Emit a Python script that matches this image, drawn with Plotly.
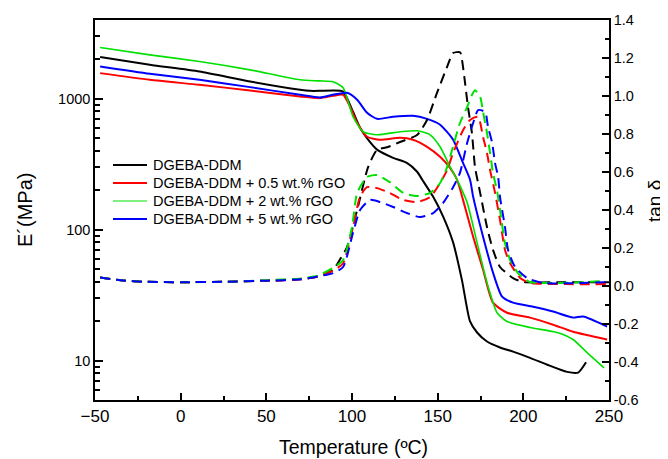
import plotly.graph_objects as go

# ---------- Storage modulus E' (MPa), left log axis ----------
T_E_neat = [-47, -18, 11, 40.5, 69.7, 75.5, 81, 89, 94.8, 100.6, 104.7, 109.4, 114.6, 124, 132, 138, 141,
            147.3, 153.2, 159, 164.2, 168.9, 173, 178.8, 186.4, 194, 203.9, 213.9, 225.5, 232, 236.6]
E_neat = [2090, 1820, 1615, 1355, 1172, 1150, 1150, 1157, 1137, 796, 601, 487, 409, 354, 324, 277, 241,
          179, 126, 80, 41, 19.9, 16.4, 14.0, 12.6, 11.7, 10.5, 9.3, 8.2, 8.1, 9.7]

T_E_05 = [-47, -18, 11, 40.5, 69.7, 81, 89, 94.8, 98.9, 103, 108.8, 116.4, 128, 135.6, 143.8, 151.4, 157.2,
          161.3, 164.8, 170.7, 176.5, 182.3, 190.5, 203.9, 217.4, 229, 248.9]
E_05 = [1571, 1397, 1279, 1157, 1042, 1012, 1054, 1073, 869, 656, 513, 487, 504, 487, 430, 361, 297,
        241, 169, 88.5, 49.5, 27.7, 23.2, 21.3, 18.8, 16.6, 14.5]

T_E_2 = [-47, -18, 11, 40.5, 69.7, 81, 89, 94.8, 100.6, 106.5, 114.6, 128, 138, 145.6, 151.4, 157.2, 161.3,
         167.2, 173, 178.8, 184.7, 190.5, 203.9, 219.7, 229, 237.2, 247.1]
E_2 = [2464, 2167, 1928, 1664, 1397, 1370, 1348, 1213, 730, 560, 531, 560, 570, 531, 430, 303, 241,
       161, 79.6, 39.4, 23.2, 19.9, 17.9, 16.4, 14.5, 11.5, 8.8]

T_E_5 = [-47, -18, 11, 40.5, 69.7, 81.3, 88.9, 97.1, 103, 108.8, 114.6, 124, 135.6, 143.8, 151.4, 159, 164.8,
         168.9, 170.7, 176.5, 182.3, 187.6, 194, 205.7, 217.4, 229, 234.9, 248.9]
E_5 = [1766, 1553, 1397, 1228, 1073, 1023, 1073, 1111, 983, 782, 703, 729, 742, 703, 634, 487, 324,
       241, 179, 88.5, 47, 30.8, 27.7, 25.8, 23.7, 21.3, 21.7, 18.2]

# ---------- tan delta, right axis ----------
T_t_neat = [-47, -35, -20, 0, 25, 50, 70, 80, 88.9, 93, 97.1, 103, 109.4, 114.6, 120.5, 128, 138, 143.8, 149.6,
            155.5, 159, 163.1, 164.2, 166, 167.7, 170, 171.8, 174.8, 178.8, 182.3, 186.4, 194, 200, 220, 250]
tan_neat = [0.045, 0.03, 0.022, 0.02, 0.022, 0.028, 0.035, 0.05, 0.085, 0.14, 0.205, 0.40, 0.626, 0.716, 0.73,
            0.758, 0.795, 0.874, 1.016, 1.153, 1.226, 1.23, 1.19, 1.068, 0.942, 0.805, 0.626, 0.49, 0.31, 0.19,
            0.10, 0.042, 0.021, 0.02, 0.02]

T_t_05 = [-47, -35, -20, 0, 25, 50, 70, 80, 88.9, 94.8, 100.6, 104.7, 108.8, 114.6, 122, 129.8, 138, 145.6,
          151.4, 155.5, 159, 164.8, 168.9, 173.6, 176.5, 178.8, 180.6, 183.5, 186.4, 189.3, 192.3, 198.1,
          203.9, 225, 249]
tan_05 = [0.045, 0.03, 0.022, 0.02, 0.022, 0.028, 0.035, 0.05, 0.08, 0.12, 0.31, 0.47, 0.52, 0.515, 0.49,
          0.453, 0.442, 0.468, 0.542, 0.61, 0.70, 0.82, 0.874, 0.89, 0.784, 0.70, 0.61, 0.49, 0.347, 0.19,
          0.12, 0.042, 0.016, 0.01, 0.01]

T_t_2 = [-47, -35, -20, 0, 25, 50, 70, 80, 88.9, 94.8, 100, 103, 108.8, 114.6, 122, 129.8, 138, 145.6, 151.4,
         155.5, 158.4, 163, 167.2, 170, 171.8, 174.8, 176.5, 178.8, 180.6, 182.3, 184.7, 186.4, 189.3, 192.3,
         196.9, 203.9, 220, 235, 247]
tan_2 = [0.045, 0.03, 0.022, 0.02, 0.022, 0.03, 0.04, 0.055, 0.095, 0.137, 0.31, 0.49, 0.574, 0.584, 0.547,
         0.49, 0.474, 0.49, 0.542, 0.626, 0.716, 0.858, 0.942, 1.005, 1.03, 0.995, 0.916, 0.805, 0.70, 0.595,
         0.50, 0.40, 0.226, 0.137, 0.068, 0.021, 0.016, 0.02, 0.026]

T_t_5 = [-47, -35, -20, 0, 25, 50, 70, 80, 88.9, 94.8, 100.6, 104.7, 110.5, 116.4, 124, 132, 139.7, 147.3,
         153.2, 159, 163, 167.2, 170.7, 173.6, 177.7, 179.4, 181.8, 183.5, 185.3, 186.4, 189.3, 191.1, 195.2,
         202.2, 211.5, 230, 249]
tan_5 = [0.045, 0.03, 0.022, 0.02, 0.022, 0.028, 0.035, 0.05, 0.068, 0.10, 0.28, 0.40, 0.453, 0.442, 0.416,
         0.384, 0.363, 0.384, 0.437, 0.52, 0.595, 0.753, 0.858, 0.926, 0.916, 0.837, 0.753, 0.647, 0.574,
         0.468, 0.31, 0.19, 0.10, 0.042, 0.016, 0.015, 0.02]

names = ["DGEBA-DDM", "DGEBA-DDM + 0.5 wt.% rGO", "DGEBA-DDM + 2 wt.% rGO", "DGEBA-DDM + 5 wt.% rGO"]
colors = ["#000000", "#ff0000", "#00e000", "#0000ff"]
widths = [2, 2, 1.6, 2]
legend_widths = [2, 2, 1, 2]

x_ticks = [-50, 0, 50, 100, 150, 200, 250]
x_minor = [-25, 25, 75, 125, 175, 225]
E_ticks = [10, 100, 1000]
E_minor = [6, 7, 8, 9, 20, 30, 40, 50, 60, 70, 80, 90, 200, 300, 400, 500, 600, 700, 800, 900, 2000, 3000]
tan_ticks = [-0.6, -0.4, -0.2, 0.0, 0.2, 0.4, 0.6, 0.8, 1.0, 1.2, 1.4]
tan_minor = [-0.5, -0.3, -0.1, 0.1, 0.3, 0.5, 0.7, 0.9, 1.1, 1.3]

E_series = [(T_E_neat, E_neat), (T_E_05, E_05), (T_E_2, E_2), (T_E_5, E_5)]
t_series = [(T_t_neat, tan_neat), (T_t_05, tan_05), (T_t_2, tan_2), (T_t_5, tan_5)]

FONT = "Liberation Sans, Arial, sans-serif"
# the page body has an 8px margin, so the figure is drawn 8px in from the window corner
OFF = 8
W, H = 668 - OFF, 459 - OFF
PL, PT, PR, PB = 95, 20, 609, 400          # plot-area edges in window pixels
ML, MT = PL - OFF, PT - OFF
MR, MB = W - (PL - OFF) - (PR - PL), H - (PT - OFF) - (PB - PT)


def px_x(p):
    return (p - PL) / (PR - PL)


def px_y(p):
    return (PB - p) / (PB - PT)


fig = go.Figure()
for (tx, ty), n, c in zip(t_series, names, colors):
    fig.add_trace(go.Scatter(x=tx, y=ty, mode="lines", yaxis="y2", name=n + " (tan δ)", showlegend=False,
                             line=dict(color=c, width=2, dash="10px,6px", shape="spline", smoothing=0.6)))
for (ex, ey), n, c, w in zip(E_series, names, colors, widths):
    fig.add_trace(go.Scatter(x=ex, y=ey, mode="lines", name=n, showlegend=False,
                             line=dict(color=c, width=w, shape="spline", smoothing=0.6)))

# legend drawn as line samples + text (Origin-style compact legend)
shapes = []
annotations = []
row_y = [165, 183, 201, 219]
for n, c, lw, ry in zip(names, colors, legend_widths, row_y):
    shapes.append(dict(type="line", xref="paper", yref="paper", x0=px_x(113), x1=px_x(147),
                       y0=px_y(ry), y1=px_y(ry), line=dict(color=c, width=lw)))
    annotations.append(dict(text=n, xref="paper", yref="paper", x=px_x(151), y=px_y(ry),
                            xanchor="left", yanchor="middle", showarrow=False,
                            font=dict(size=14.5, color="black", family=FONT)))

# axis titles
annotations.append(dict(text="Temperature (ºC)", xref="paper", yref="paper", x=px_x(353), y=px_y(447),
                        xanchor="center", yanchor="middle", showarrow=False,
                        font=dict(size=19.5, color="black", family=FONT)))
annotations.append(dict(text="E´(MPa)", xref="paper", yref="paper", x=px_x(25), y=px_y(210),
                        xanchor="center", yanchor="middle", showarrow=False, textangle=-90,
                        font=dict(size=20, color="black", family=FONT)))
annotations.append(dict(text="tan δ", xref="paper", yref="paper", x=px_x(654), y=px_y(201),
                        xanchor="center", yanchor="middle", showarrow=False, textangle=-90,
                        font=dict(size=19, color="black", family=FONT)))

fig.update_layout(
    width=W, height=H,
    margin=dict(l=ML, r=MR, t=MT, b=MB, autoexpand=False),
    paper_bgcolor="white", plot_bgcolor="white",
    font=dict(family=FONT, size=15, color="black"),
    showlegend=False,
    shapes=shapes, annotations=annotations,
    xaxis=dict(range=[-50, 250], tickvals=x_ticks, automargin=False,
               tickfont=dict(size=17),
               ticks="inside", ticklen=7, tickwidth=1.5, tickcolor="black",
               showline=True, linecolor="black", linewidth=1.5, mirror=True,
               showgrid=False, zeroline=False,
               minor=dict(tickvals=x_minor, ticks="inside", ticklen=4,
                          tickwidth=1.5, tickcolor="black", showgrid=False)),
    yaxis=dict(type="log", range=[0.699, 3.602], tickvals=E_ticks, ticktext=[str(v) for v in E_ticks],
               automargin=False, tickfont=dict(size=14.5),
               ticks="inside", ticklen=8, tickwidth=1.5, tickcolor="black",
               showline=True, linecolor="black", linewidth=1.5,
               showgrid=False, zeroline=False,
               minor=dict(tickvals=E_minor, ticks="inside", ticklen=5, tickwidth=1.5,
                          tickcolor="black", showgrid=False)),
    yaxis2=dict(overlaying="y", side="right", range=[-0.6, 1.4], automargin=False,
                tickvals=tan_ticks, ticktext=[f"{v:.1f}" for v in tan_ticks],
                tickfont=dict(size=14.5),
                ticks="inside", ticklen=7, tickwidth=1.5, tickcolor="black",
                showline=True, linecolor="black", linewidth=1.5,
                showgrid=False, zeroline=False,
                minor=dict(tickvals=tan_minor, ticks="inside", ticklen=4, tickwidth=1.5,
                           tickcolor="black", showgrid=False)),
)

fig.write_html("out.html")
